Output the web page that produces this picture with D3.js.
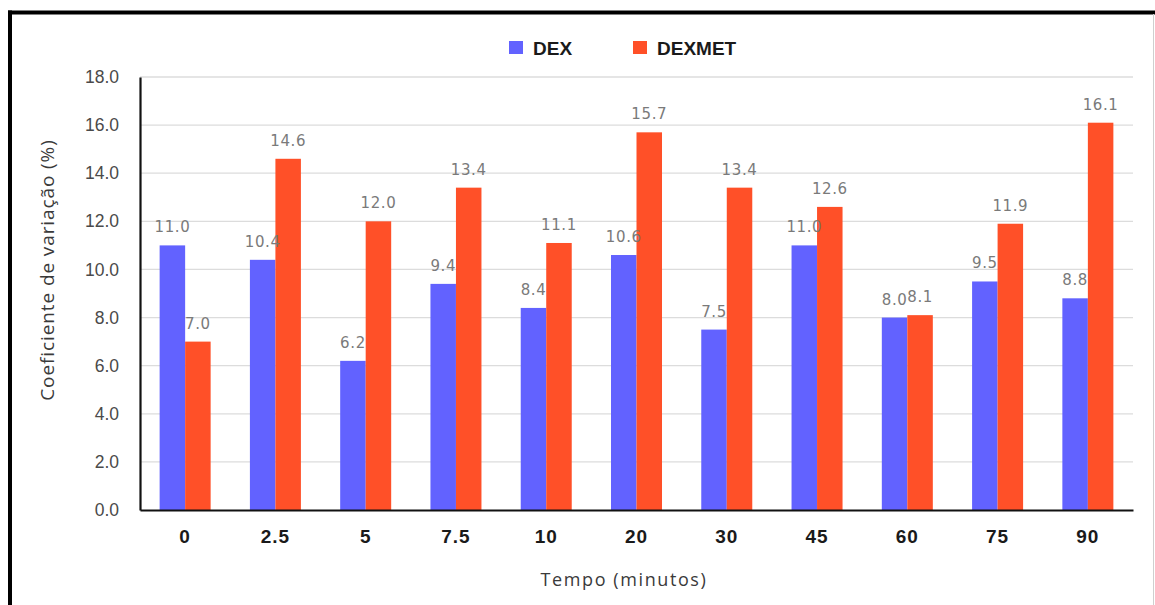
<!DOCTYPE html>
<html>
<head>
<meta charset="utf-8">
<script src="https://cdn.jsdelivr.net/npm/d3@7"></script>
<style>
  html, body { margin: 0; padding: 0; background: #fff; }
  svg { display: block; }
</style>
</head>
<body>
<svg id="chart" width="1155" height="605"></svg>
<script>
// Coefficient of variation per sampling time, for each formulation
const categories = ["0", "2.5", "5", "7.5", "10", "20", "30", "45", "60", "75", "90"];
const seriesNames = ["DEX", "DEXMET"];
const dexValues = [11.0, 10.4, 6.2, 9.4, 8.4, 10.6, 7.5, 11.0, 8.0, 9.5, 8.8];
const dexmetValues = [7.0, 14.6, 12.0, 13.4, 11.1, 15.7, 13.4, 12.6, 8.1, 11.9, 16.1];
const yTicks = [0, 2, 4, 6, 8, 10, 12, 14, 16, 18];
const colors = ["#6262ff", "#ff5028"];

const svg = d3.select("#chart");
const W = 1155, H = 605;
const plot = { left: 140, right: 1133, top: 77, bottom: 510 };

// Frame around the figure
svg.append("rect").attr("x", 0).attr("y", 0).attr("width", W).attr("height", H).attr("fill", "#fff");
svg.append("line").attr("x1", 8).attr("x2", W).attr("y1", 12.5).attr("y2", 12.5)
  .attr("stroke", "#000").attr("stroke-width", 4);
svg.append("line").attr("x1", 10).attr("x2", 10).attr("y1", 10.5).attr("y2", H)
  .attr("stroke", "#000").attr("stroke-width", 4);
svg.append("line").attr("x1", 1153.5).attr("x2", 1153.5).attr("y1", 14).attr("y2", H)
  .attr("stroke", "#cfcfcf").attr("stroke-width", 1);

const rows = categories.map((c, i) => ({ cat: c, values: [dexValues[i], dexmetValues[i]] }));

const x0 = d3.scaleBand().domain(categories).range([plot.left, plot.right])
  .paddingInner(0.435).paddingOuter(0.2175);
const x1 = d3.scaleBand().domain(seriesNames).range([0, x0.bandwidth()]).padding(0);
const y = d3.scaleLinear().domain([0, 18]).range([plot.bottom, plot.top]);

// Horizontal gridlines
svg.append("g").selectAll("line").data(yTicks.filter(t => t > 0)).join("line")
  .attr("x1", plot.left).attr("x2", plot.right)
  .attr("y1", d => y(d)).attr("y2", d => y(d))
  .attr("stroke", "#dcdcdc").attr("stroke-width", 1.3);

// Y axis
const yAxis = svg.append("g").attr("transform", `translate(${plot.left},0)`)
  .call(d3.axisLeft(y).tickValues(yTicks).tickFormat(d3.format(".1f")).tickSize(0).tickPadding(21));
yAxis.select(".domain").attr("stroke", "#111").attr("stroke-width", 2.2);
yAxis.selectAll("text").attr("font-family", "Liberation Sans, Arial, sans-serif")
  .attr("font-size", 17.5).attr("fill", "#4a4a4a");

// Bars
const groups = svg.append("g").selectAll("g").data(rows).join("g")
  .attr("transform", d => `translate(${x0(d.cat)},0)`);
groups.selectAll("rect").data(d => d.values.map((v, k) => ({ key: seriesNames[k], v, k }))).join("rect")
  .attr("x", d => x1(d.key)).attr("width", x1.bandwidth())
  .attr("y", d => y(d.v)).attr("height", d => y(0) - y(d.v))
  .attr("fill", d => colors[d.k]);

// Value labels over each bar
groups.selectAll("text").data(d => d.values.map((v, k) => ({ key: seriesNames[k], v, k }))).join("text")
  .attr("x", d => x1(d.key) + x1.bandwidth() / 2)
  .attr("y", d => y(d.v) - 13)
  .attr("text-anchor", "middle")
  .attr("font-family", "DejaVu Sans, sans-serif").attr("font-size", 15)
  .attr("letter-spacing", 0.6)
  .attr("fill", "#7a7a7a")
  .text(d => d3.format(".1f")(d.v));

// X axis
const xAxis = svg.append("g").attr("transform", `translate(0,${plot.bottom})`)
  .call(d3.axisBottom(x0).tickSize(0).tickPadding(20));
xAxis.select(".domain").attr("stroke", "#111").attr("stroke-width", 2.2);
xAxis.selectAll("text").attr("font-family", "Liberation Sans, Arial, sans-serif")
  .attr("font-size", 19).attr("font-weight", "bold").attr("fill", "#1a1a1a")
  .attr("letter-spacing", 1);

// Axis titles
svg.append("text").attr("x", 624).attr("y", 586).attr("text-anchor", "middle")
  .attr("font-family", "Open Sans, sans-serif").attr("font-size", 18).attr("fill", "#3a3a3a")
  .attr("letter-spacing", 1.6)
  .text("Tempo (minutos)");
svg.append("text").attr("transform", "translate(54,270) rotate(-90)").attr("text-anchor", "middle")
  .attr("font-family", "Open Sans, sans-serif").attr("font-size", 19).attr("fill", "#3a3a3a")
  .attr("letter-spacing", 0.9)
  .text("Coeficiente de variação (%)");

// Legend
const legendX = [509, 633];
const legend = svg.append("g").selectAll("g").data(seriesNames).join("g")
  .attr("transform", (d, i) => `translate(${legendX[i]},41)`);
legend.append("rect").attr("width", 14).attr("height", 13).attr("fill", (d, i) => colors[i]);
legend.append("text").attr("x", 24).attr("y", 13.5)
  .attr("font-family", "Liberation Sans, Arial, sans-serif").attr("font-size", 19)
  .attr("font-weight", "bold").attr("fill", "#1a1a1a")
  .text(d => d);
</script>
</body>
</html>
